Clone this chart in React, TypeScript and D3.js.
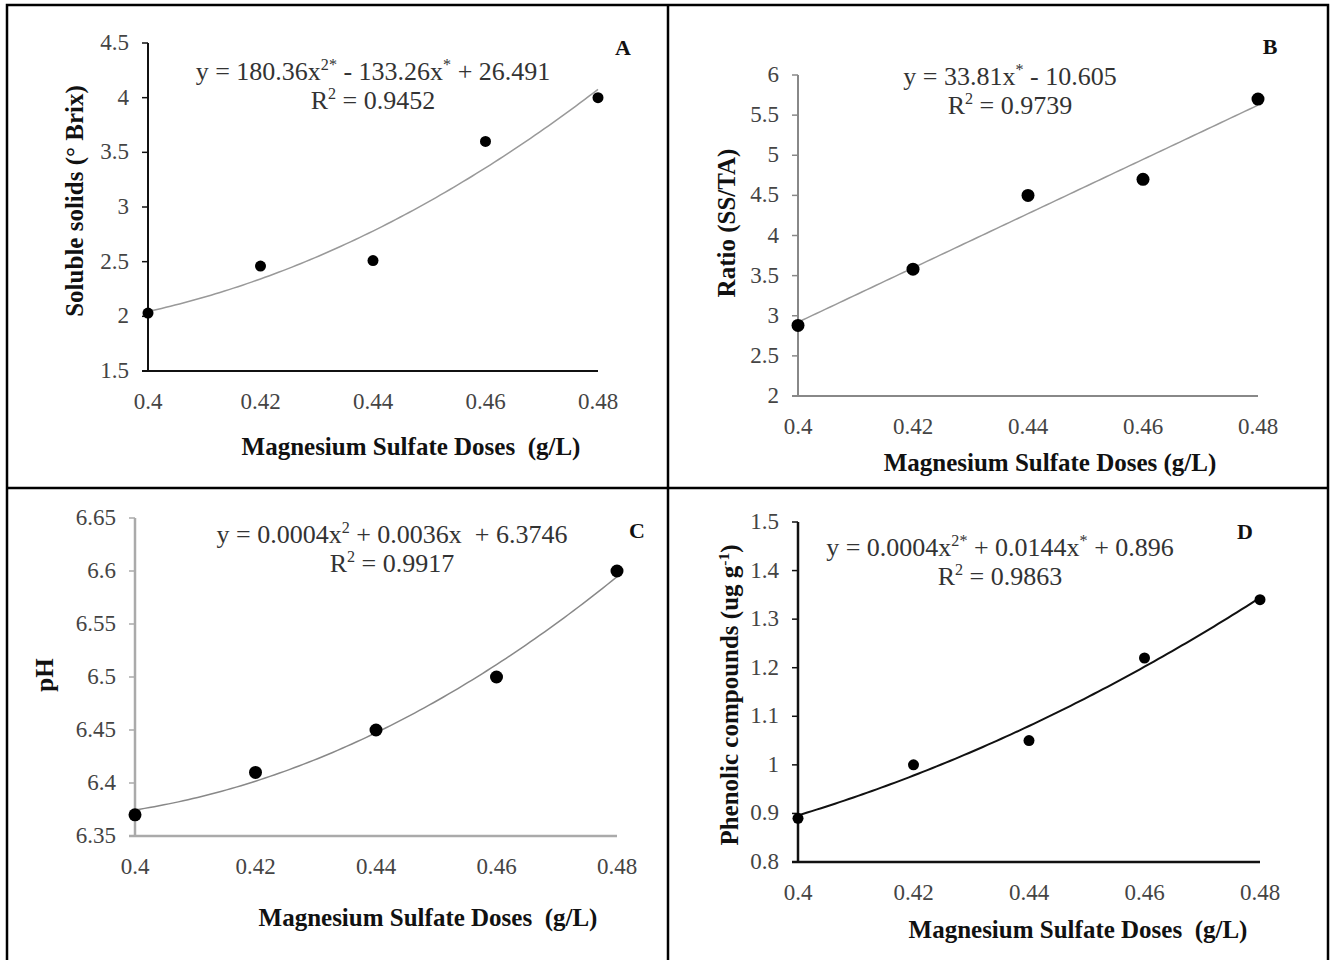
import React from "react";
import * as d3 from "d3";

// ---------- data ----------
const doses = [0.4, 0.42, 0.44, 0.46, 0.48];
const xTicks = [0.4, 0.42, 0.44, 0.46, 0.48];

const solubleSolids = [2.03, 2.46, 2.51, 3.6, 4.0];
const ratioSSTA = [2.88, 3.58, 4.5, 4.7, 5.7];
const phValues = [6.37, 6.41, 6.45, 6.5, 6.6];
const phenolics = [0.89, 1.0, 1.05, 1.22, 1.34];

const ticksA = [1.5, 2, 2.5, 3, 3.5, 4, 4.5];
const ticksB = [2, 2.5, 3, 3.5, 4, 4.5, 5, 5.5, 6];
const ticksC = [6.35, 6.4, 6.45, 6.5, 6.55, 6.6, 6.65];
const ticksD = [0.8, 0.9, 1, 1.1, 1.2, 1.3, 1.4, 1.5];

// ---------- regression (least squares) ----------
function fitPoly(xs: number[], ys: number[], degree: number) {
  const mx = d3.mean(xs) as number;
  const sc = 0.02;
  const ts = xs.map((x) => (x - mx) / sc);
  const n = degree + 1;
  const A: number[][] = Array.from({ length: n }, () => Array(n + 1).fill(0));
  ts.forEach((t, k) => {
    for (let i = 0; i < n; i++) {
      for (let j = 0; j < n; j++) A[i][j] += Math.pow(t, i + j);
      A[i][n] += Math.pow(t, i) * ys[k];
    }
  });
  for (let i = 0; i < n; i++) {
    let p = i;
    for (let r = i + 1; r < n; r++) if (Math.abs(A[r][i]) > Math.abs(A[p][i])) p = r;
    [A[i], A[p]] = [A[p], A[i]];
    for (let r = 0; r < n; r++) {
      if (r === i) continue;
      const f = A[r][i] / A[i][i];
      for (let c = i; c <= n; c++) A[r][c] -= f * A[i][c];
    }
  }
  const coef = A.map((row, i) => row[n] / row[i]);
  return (x: number) => {
    const t = (x - mx) / sc;
    return coef.reduce((s, c, i) => s + c * Math.pow(t, i), 0);
  };
}

type Sup = { t: string; sup?: boolean };

type PanelCfg = {
  values: number[];
  yTicks: number[];
  degree: number;
  x0: number;
  x1: number;
  yTop: number;
  yBot: number;
  axisColor: string;
  axisWidth: number;
  lineColor: string;
  lineWidth: number;
  r: number;
  eq: Sup[];
  r2: Sup[];
  eqX: number;
  eqY: number;
  letter: string;
  letterX: number;
  letterY: number;
  xTitle: string;
  xTitleX: number;
  xTitleY: number;
  yTitle: Sup[];
  yTitleX: number;
  yTitleY: number;
};

const serif = "'Liberation Serif', 'Times New Roman', serif";
const TICK = 23;
const EQ = 26;
const TITLE = 25;

function Rich({ parts, size }: { parts: Sup[]; size: number }) {
  return (
    <>
      {parts.map((p, i) =>
        p.sup ? (
          <tspan key={i} fontSize={size * 0.62} dy={-size * 0.38}>
            {p.t}
          </tspan>
        ) : (
          <tspan key={i} dy={i > 0 && parts[i - 1].sup ? size * 0.38 : 0}>
            {p.t}
          </tspan>
        )
      )}
    </>
  );
}

function Panel({ c }: { c: PanelCfg }) {
  const x = d3.scaleLinear().domain([0.4, 0.48]).range([c.x0, c.x1]);
  const y = d3
    .scaleLinear()
    .domain([c.yTicks[0], c.yTicks[c.yTicks.length - 1]])
    .range([c.yBot, c.yTop]);
  const f = fitPoly(doses, c.values, c.degree);
  const xs = d3.range(0, 101).map((i) => 0.4 + (0.08 * i) / 100);
  const line = d3
    .line<number>()
    .x((d) => x(d))
    .y((d) => y(f(d)));
  return (
    <g fontFamily={serif}>
      {/* axes */}
      <line x1={c.x0} x2={c.x0} y1={c.yTop} y2={c.yBot} stroke={c.axisColor} strokeWidth={c.axisWidth} />
      <line x1={c.x0 - 6} x2={c.x1} y1={c.yBot} y2={c.yBot} stroke={c.axisColor} strokeWidth={c.axisWidth} />
      {c.yTicks.map((t) => (
        <g key={t}>
          <line x1={c.x0 - 6} x2={c.x0} y1={y(t)} y2={y(t)} stroke={c.axisColor} strokeWidth={1.5} />
          <text x={c.x0 - 19} y={y(t) + 7} textAnchor="end" fontSize={TICK} fill="#444">
            {String(t)}
          </text>
        </g>
      ))}
      {xTicks.map((t) => (
        <text key={t} x={x(t)} y={c.yBot + 38} textAnchor="middle" fontSize={TICK} fill="#444">
          {String(t)}
        </text>
      ))}
      {/* trendline */}
      <path d={line(xs) || ""} fill="none" stroke={c.lineColor} strokeWidth={c.lineWidth} />
      {/* points */}
      {doses.map((d, i) => (
        <circle key={i} cx={x(d)} cy={y(c.values[i])} r={c.r} fill="#000" />
      ))}
      {/* equation */}
      <text x={c.eqX} y={c.eqY} textAnchor="middle" fontSize={EQ} fill="#333">
        <Rich parts={c.eq} size={EQ} />
      </text>
      <text x={c.eqX} y={c.eqY + 29} textAnchor="middle" fontSize={EQ} fill="#333">
        <Rich parts={c.r2} size={EQ} />
      </text>
      <text x={c.letterX} y={c.letterY} textAnchor="middle" fontSize={22} fontWeight="bold" fill="#111">
        {c.letter}
      </text>
      {/* axis titles */}
      <text x={c.xTitleX} y={c.xTitleY} textAnchor="middle" fontSize={TITLE} fontWeight="bold" fill="#111">
        {c.xTitle}
      </text>
      <text
        transform={`translate(${c.yTitleX},${c.yTitleY}) rotate(-90)`}
        textAnchor="middle"
        fontSize={TITLE}
        fontWeight="bold"
        fill="#111"
      >
        <Rich parts={c.yTitle} size={TITLE} />
      </text>
    </g>
  );
}

const xTitleWide = "Magnesium Sulfate Doses \u00a0(g/L)";
const xTitleNarrow = "Magnesium Sulfate Doses (g/L)";

const panels: PanelCfg[] = [
  {
    values: solubleSolids, yTicks: ticksA, degree: 2,
    x0: 148, x1: 598, yTop: 43, yBot: 371,
    axisColor: "#111", axisWidth: 2, lineColor: "#999", lineWidth: 1.5, r: 5.5,
    eq: [{ t: "y = 180.36x" }, { t: "2*", sup: true }, { t: " - 133.26x" }, { t: "*", sup: true }, { t: " + 26.491" }],
    r2: [{ t: "R" }, { t: "2", sup: true }, { t: " = 0.9452" }],
    eqX: 373, eqY: 80, letter: "A", letterX: 623, letterY: 55,
    xTitle: xTitleWide, xTitleX: 411, xTitleY: 455,
    yTitle: [{ t: "Soluble solids (° Brix)" }], yTitleX: 83, yTitleY: 201,
  },
  {
    values: ratioSSTA, yTicks: ticksB, degree: 1,
    x0: 798, x1: 1258, yTop: 75, yBot: 396,
    axisColor: "#888", axisWidth: 2, lineColor: "#999", lineWidth: 1.5, r: 6.5,
    eq: [{ t: "y = 33.81x" }, { t: "*", sup: true }, { t: " - 10.605" }],
    r2: [{ t: "R" }, { t: "2", sup: true }, { t: " = 0.9739" }],
    eqX: 1010, eqY: 85, letter: "B", letterX: 1270, letterY: 54,
    xTitle: xTitleNarrow, xTitleX: 1050, xTitleY: 471,
    yTitle: [{ t: "Ratio (SS/TA)" }], yTitleX: 735, yTitleY: 223,
  },
  {
    values: phValues, yTicks: ticksC, degree: 2,
    x0: 135, x1: 617, yTop: 518, yBot: 836,
    axisColor: "#aaa", axisWidth: 2.5, lineColor: "#888", lineWidth: 1.5, r: 6.5,
    eq: [{ t: "y = 0.0004x" }, { t: "2", sup: true }, { t: " + 0.0036x \u00a0+ 6.3746" }],
    r2: [{ t: "R" }, { t: "2", sup: true }, { t: " = 0.9917" }],
    eqX: 392, eqY: 543, letter: "C", letterX: 637, letterY: 538,
    xTitle: xTitleWide, xTitleX: 428, xTitleY: 926,
    yTitle: [{ t: "pH" }], yTitleX: 53, yTitleY: 675,
  },
  {
    values: phenolics, yTicks: ticksD, degree: 2,
    x0: 798, x1: 1260, yTop: 522, yBot: 862,
    axisColor: "#111", axisWidth: 2.5, lineColor: "#111", lineWidth: 2, r: 5.5,
    eq: [{ t: "y = 0.0004x" }, { t: "2*", sup: true }, { t: " + 0.0144x" }, { t: "*", sup: true }, { t: " + 0.896" }],
    r2: [{ t: "R" }, { t: "2", sup: true }, { t: " = 0.9863" }],
    eqX: 1000, eqY: 556, letter: "D", letterX: 1245, letterY: 539,
    xTitle: xTitleWide, xTitleX: 1078, xTitleY: 938,
    yTitle: [{ t: "Phenolic compounds (ug g" }, { t: "-1", sup: true }, { t: ")" }], yTitleX: 738, yTitleY: 695,
  },
];

export default function App() {
  return (
    <svg
      width={1333}
      height={960}
      style={{ position: "absolute", left: 0, top: 0, background: "#fff" }}
    >
      <rect x={0} y={0} width={1333} height={960} fill="#fff" />
      {panels.map((p, i) => (
        <Panel key={i} c={p} />
      ))}
      {/* frame */}
      <rect x={7} y={5} width={1321} height={960} fill="none" stroke="#000" strokeWidth={2.5} />
      <line x1={668} x2={668} y1={5} y2={960} stroke="#000" strokeWidth={2.5} />
      <line x1={7} x2={1328} y1={488} y2={488} stroke="#000" strokeWidth={2.5} />
    </svg>
  );
}
